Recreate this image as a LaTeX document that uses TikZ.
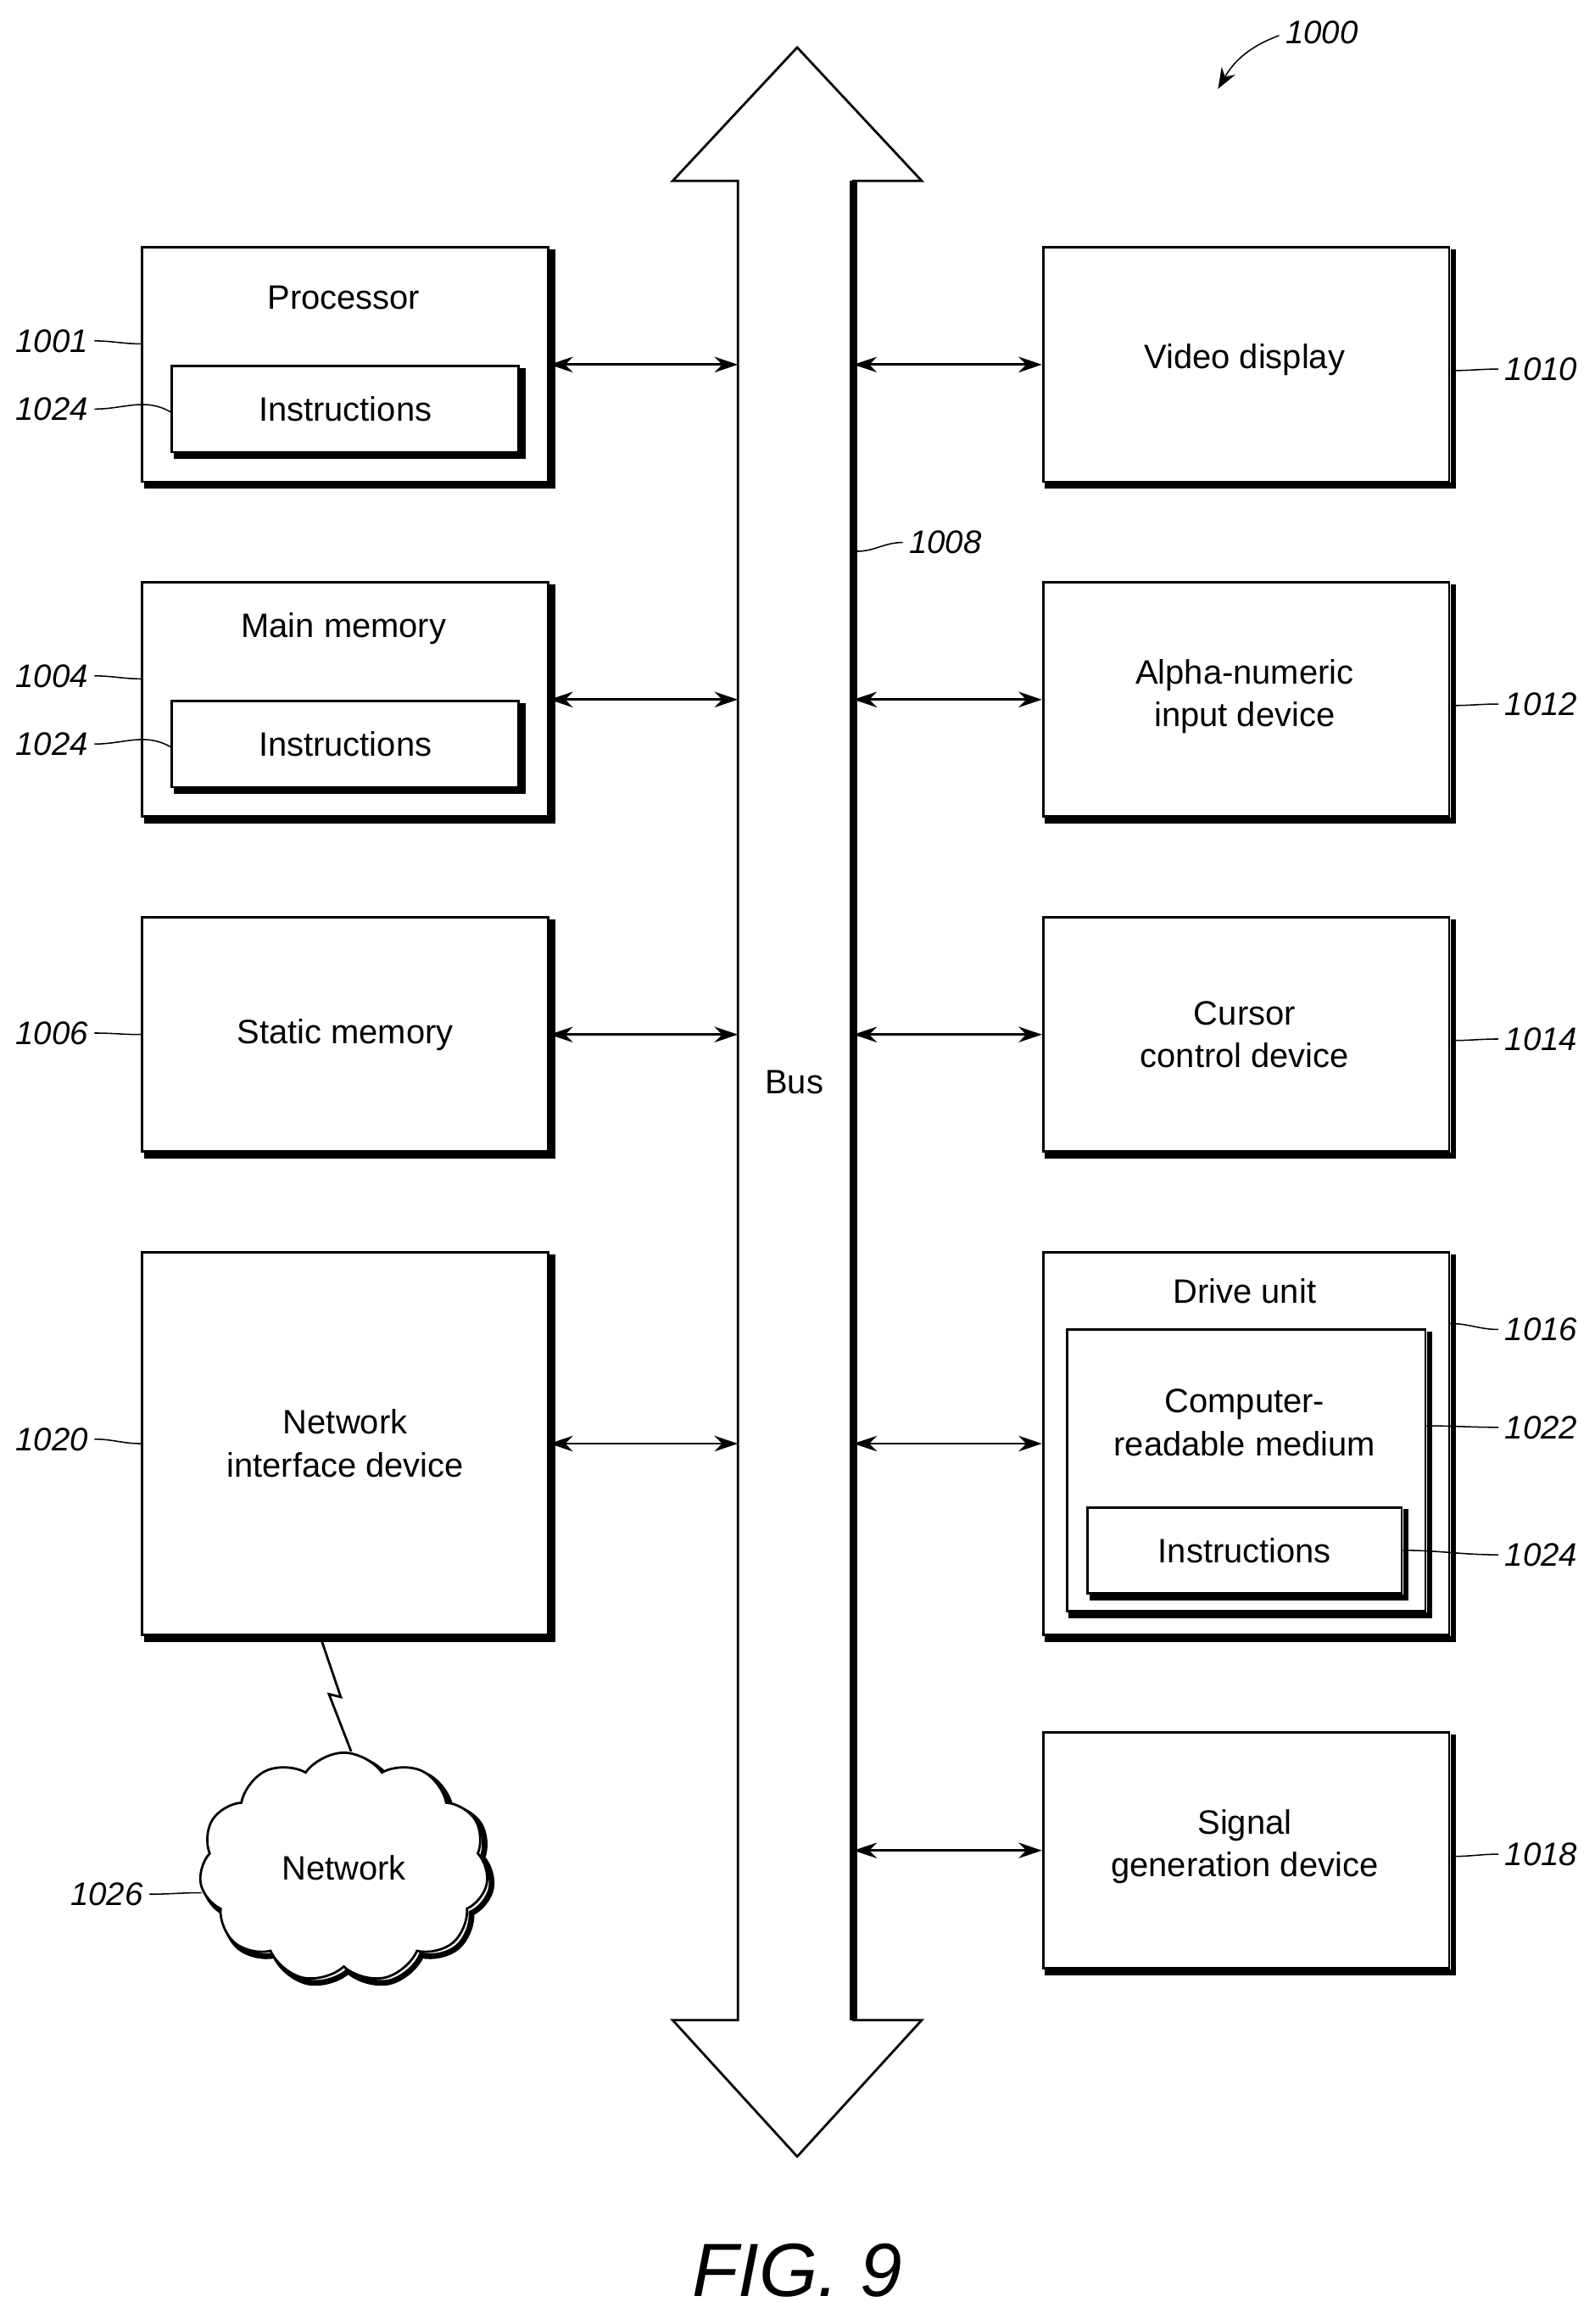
\documentclass[tikz,border=0pt]{standalone}
\usepackage{fontspec}
\setmainfont{Liberation Sans}
\usetikzlibrary{fit,calc,shapes.symbols,arrows.meta}
\begin{document}
\begin{tikzpicture}[x=0.02cm,y=-0.02cm,
  box/.style={draw,line width=0.9pt,inner sep=0pt},
  txt/.style={font=\fontsize{13}{16.5}\selectfont,align=center,inner sep=0pt},
  lab/.style={font=\fontsize{12.5}{14}\selectfont\itshape,inner sep=0pt},
  lead/.style={line width=0.5pt},
  arr/.style={{Stealth[length=9pt,width=6pt]}-{Stealth[length=9pt,width=6pt]},line width=0.9pt}]
\useasboundingbox (0,0) rectangle (1076,1568);
\newcommand\shd[1]{\draw[line width=2.2pt] ($(#1.north east)+(2,2)$) -- ($(#1.south east)+(2,2)$) -- ($(#1.south west)+(2,2)$);}
% bus
\draw[line width=0.9pt,line join=miter] (498,1363)--(454,1363)--(538,1455)--(622,1363)--(576,1363)--(576,122)--(622,122)--(538,32)--(454,122)--(498,122)--cycle;
\draw[line width=3pt] (576,122)--(576,1363);
\coordinate (bl) at (498,0); \coordinate (br) at (576,0);
\node[txt] (bus) at (536,730) {Bus};
% left boxes
\node[box,fit={(96,167)(370,325)}] (p) {}; \shd{p}
\node[txt] (pt) at (232,201) {Processor};
\node[box,fit={(116,247)(350,305)}] (pi) {}; \shd{pi}
\node[txt] at (pi) {Instructions};
\node[box,fit={(96,393)(370,551)}] (m) {}; \shd{m}
\node[txt] (mt) at (232,424) {Main memory};
\node[box,fit={(116,473)(350,531)}] (mi) {}; \shd{mi}
\node[txt] at (mi) {Instructions};
\node[box,fit={(96,619)(370,777)}] (s) {}; \shd{s}
\node[txt] at (s) {Static memory};
\node[box,fit={(96,845)(370,1103)}] (n) {}; \shd{n}
\node[txt] at (n) {Network\\interface device};
% right boxes
\node[box,fit={(704,167)(978,325)}] (v) {}; \shd{v}
\node[txt] at (840,243) {Video display};
\node[box,fit={(704,393)(978,551)}] (a) {}; \shd{a}
\node[txt] at (840,470) {Alpha-numeric\\input device};
\node[box,fit={(704,619)(978,777)}] (c) {}; \shd{c}
\node[txt] at (840,698) {Cursor\\control device};
\node[box,fit={(704,845)(978,1103)}] (d) {}; \shd{d}
\node[txt] at (840,871) {Drive unit};
\node[box,fit={(720,897)(962,1087)}] (cr) {}; \shd{cr}
\node[txt] at (840,960) {Computer-\\readable medium};
\node[box,fit={(734,1017)(946,1075)}] (di) {}; \shd{di}
\node[txt] at (di) {Instructions};
\node[box,fit={(704,1169)(978,1328)}] (g) {}; \shd{g}
\node[txt] at (840,1246) {Signal\\generation device};
% arrows
\foreach \b in {p,m,s,n} \draw[arr] (\b.east) -- (\b.east -| bl);
\foreach \b in {v,a,c,d,g} \draw[arr] (\b.west -| br) -- (\b.west);
% cloud
\node[cloud,cloud puffs=11,cloud puff arc=110,aspect=1.25,minimum width=3.9cm,minimum height=3.1cm,draw,line width=2.2pt] at (235,1263) {};
\node[cloud,cloud puffs=11,cloud puff arc=110,aspect=1.25,minimum width=3.9cm,minimum height=3.1cm,draw,line width=0.9pt,fill=white] (cl) at (232,1260) {};
\node[txt] at (cl) {Network};
\draw[line width=0.9pt] (n.south -| 216,0) -- (230,1145) -- (222,1143) -- (cl.north -| 237,0);
% labels
\node[lab] (l1001) at (35,230) {1001};
\draw[lead] (l1001.east)+(4,0) to[out=0,in=180] (p.west |- 0,232);
\node[lab] (l1024a) at (35,276) {1024};
\draw[lead] ($(l1024a.east)+(4,0)$) to[out=0,in=150] ($(pi.west)+(0,2)$);
\node[lab] (l1004) at (35,456) {1004};
\draw[lead] ($(l1004.east)+(4,0)$) to[out=0,in=180] (m.west |- 0,458);
\node[lab] (l1024b) at (35,502) {1024};
\draw[lead] ($(l1024b.east)+(4,0)$) to[out=0,in=150] ($(mi.west)+(0,2)$);
\node[lab] (l1006) at (35,697) {1006};
\draw[lead] ($(l1006.east)+(4,0)$) to[out=0,in=180] (s.west);
\node[lab] (l1020) at (35,971) {1020};
\draw[lead] ($(l1020.east)+(4,0)$) to[out=0,in=180] (n.west);
\node[lab] (l1026) at (72,1278) {1026};
\draw[lead] ($(l1026.east)+(4,0)$) to[out=0,in=180] (136,1277);
\node[lab] (l1010) at (1040,249) {1010};
\draw[lead] ($(l1010.west)+(-4,0)$) to[out=180,in=0] ($(v.east)+(2,4)$);
\node[lab] (l1012) at (1040,475) {1012};
\draw[lead] ($(l1012.west)+(-4,0)$) to[out=180,in=0] ($(a.east)+(2,4)$);
\node[lab] (l1014) at (1040,701) {1014};
\draw[lead] ($(l1014.west)+(-4,0)$) to[out=180,in=0] ($(c.east)+(2,4)$);
\node[lab] (l1016) at (1040,897) {1016};
\draw[lead] ($(l1016.west)+(-4,0)$) to[out=180,in=0] (d.east |- 0,893);
\node[lab] (l1022) at (1040,963) {1022};
\draw[lead] ($(l1022.west)+(-4,0)$) to[out=180,in=0] (cr.east |- 0,962);
\node[lab] (l1024c) at (1040,1049) {1024};
\draw[lead] ($(l1024c.west)+(-4,0)$) to[out=180,in=0] (di.east |- 0,1046);
\node[lab] (l1018) at (1040,1251) {1018};
\draw[lead] ($(l1018.west)+(-4,0)$) to[out=180,in=0] ($(g.east)+(2,4)$);
\node[lab] (l1008) at (638,366) {1008};
\draw[lead] ($(l1008.west)+(-4,0)$) to[out=180,in=0] (578,372);
\node[lab] (l1000) at (892,22) {1000};
\coordinate (t1000) at (822,60);
\draw[lead,-{Stealth[length=8pt,width=6pt]}] ($(l1000.west)+(-4,2)$) to[out=200,in=60] (t1000);
\node[font=\fontsize{29}{32}\selectfont\itshape,inner sep=0pt] (fig) at (538,1532) {FIG. 9};
\end{tikzpicture}
\end{document}
